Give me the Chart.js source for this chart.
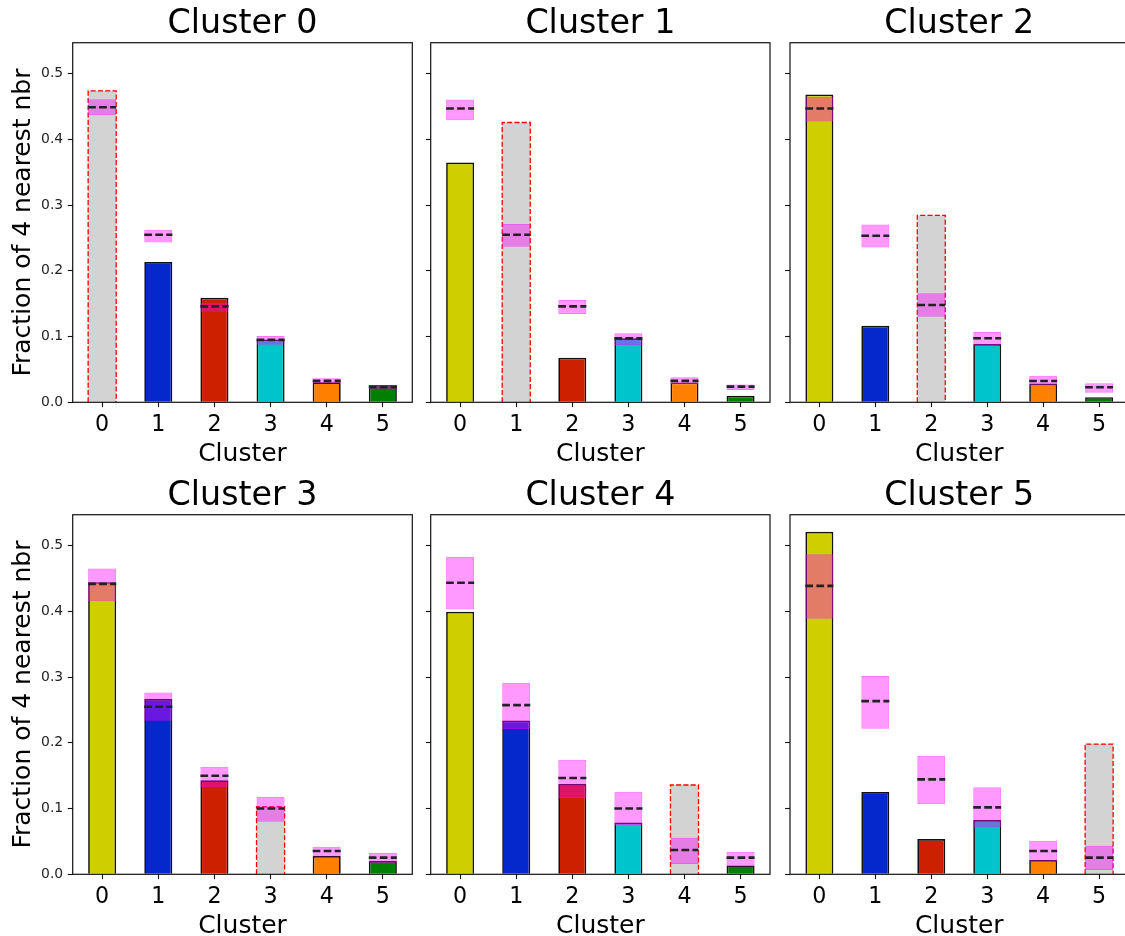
<!DOCTYPE html>
<html>
<head>
<meta charset="utf-8">
<script src="https://cdn.jsdelivr.net/npm/chart.js@4.4.1/dist/chart.umd.min.js"></script>
<style>
  html, body { margin: 0; padding: 0; background: #fff; }
  #fig { position: relative; width: 1125px; height: 936px; overflow: hidden; background: #fff; }
  #fig canvas { position: absolute; }
</style>
</head>
<body>
<div id="fig"></div>
<script>
// ---- data -------------------------------------------------------------
const clusterIds = [0, 1, 2, 3, 4, 5];
const panelTitles = ['Cluster 0', 'Cluster 1', 'Cluster 2', 'Cluster 3', 'Cluster 4', 'Cluster 5'];
const yTickValues = [0.0, 0.1, 0.2, 0.3, 0.4, 0.5];
const xAxisTitle = 'Cluster';
const yAxisTitle = 'Fraction of 4 nearest nbr';

// observed fraction of neighbours in each cluster (one row per panel)
const observed = [
  [0.4737, 0.2133, 0.1591, 0.0955, 0.0304, 0.0263],
  [0.3647, 0.4255, 0.0679, 0.0975, 0.0300, 0.0098],
  [0.4681, 0.1165, 0.2842, 0.0885, 0.0287, 0.0078],
  [0.4443, 0.2665, 0.1429, 0.1027, 0.0278, 0.0202],
  [0.3992, 0.2340, 0.1373, 0.0788, 0.1358, 0.0135],
  [0.5208, 0.1251, 0.0537, 0.0826, 0.0218, 0.1981]
];
// expected range under shuffling: low edge, mean, high edge
const nullLow = [
  [0.4367, 0.2432, 0.1378, 0.0875, 0.0289, 0.0193],
  [0.4291, 0.2366, 0.1342, 0.0871, 0.0278, 0.0187],
  [0.4271, 0.2356, 0.1302, 0.0868, 0.0250, 0.0147],
  [0.4154, 0.2335, 0.1322, 0.0800, 0.0270, 0.0177],
  [0.4027, 0.2209, 0.1160, 0.0750, 0.0155, 0.0118],
  [0.3886, 0.2214, 0.1064, 0.0714, 0.0192, 0.0066]
];
const nullMean = [
  [0.4488, 0.2548, 0.1459, 0.0950, 0.0326, 0.0228],
  [0.4468, 0.2548, 0.1459, 0.0972, 0.0326, 0.0238],
  [0.4468, 0.2533, 0.1479, 0.0973, 0.0324, 0.0228],
  [0.4417, 0.2548, 0.1499, 0.1000, 0.0355, 0.0253],
  [0.4433, 0.2573, 0.1464, 0.1000, 0.0370, 0.0253],
  [0.4387, 0.2634, 0.1444, 0.1018, 0.0355, 0.0253]
];
const nullHigh = [
  [0.4610, 0.2624, 0.1515, 0.1010, 0.0365, 0.0262],
  [0.4605, 0.2710, 0.1555, 0.1049, 0.0380, 0.0271],
  [0.4645, 0.2705, 0.1657, 0.1071, 0.0402, 0.0289],
  [0.4650, 0.2766, 0.1636, 0.1180, 0.0420, 0.0329],
  [0.4828, 0.2913, 0.1743, 0.1256, 0.0557, 0.0344],
  [0.4868, 0.3014, 0.1803, 0.1322, 0.0511, 0.0433]
];

// ---- styles -----------------------------------------------------------
const clusterColors = ['#cfcf00', '#0428cc', '#cc2000', '#00c4cc', '#ff8000', '#008000'];
const selfColor = '#d3d3d3';
const bandColor = 'rgba(255, 0, 255, 0.4)';
const bandEdge = 'rgba(255, 0, 255, 0.55)';
const FONT = "'DejaVu Sans', 'Liberation Sans', sans-serif";
const HALF = 0.25;                       // half bar width in axis units

// x limits: bar extents plus a 5% margin, y limits: 0 to max + 5%
const xSpan = (clusterIds[clusterIds.length - 1] + HALF) - (clusterIds[0] - HALF);
const xMin = clusterIds[0] - HALF - 0.05 * xSpan;
const xMax = clusterIds[clusterIds.length - 1] + HALF + 0.05 * xSpan;
const yMax = Math.max(...observed.flat(), ...nullHigh.flat()) * 1.05;

// ---- layout of the 2x3 grid ------------------------------------------
const colLeft = [0, 420, 780];
const colWidth = [420, 360, 355];
const axisWidth = [72.7, 10.7, 10];
const padRight = [7.7, 10, 6.5];
const rowTop = [0, 472];
const canvasH = 470;
const xAxisH = 67.7;

const framePlugin = {
  id: 'frame',
  afterDatasetsDraw(chart) {
    const { ctx, chartArea: a } = chart;
    ctx.save();
    ctx.strokeStyle = '#111';
    ctx.lineWidth = 1.2;
    ctx.strokeRect(a.left, a.top, a.right - a.left, a.bottom - a.top);
    ctx.restore();
  }
};

const fig = document.getElementById('fig');

panelTitles.forEach((title, p) => {
  const col = p % 3, row = Math.floor(p / 3);
  const self = p;

  const canvas = document.createElement('canvas');
  canvas.width = colWidth[col];
  canvas.height = canvasH;
  canvas.style.left = colLeft[col] + 'px';
  canvas.style.top = rowTop[row] + 'px';
  fig.appendChild(canvas);

  const others = clusterIds.filter(c => c !== self);
  const barPts = others.map(c => ({ x: c, y: observed[p][c] }));
  const barCols = others.map(c => clusterColors[c]);
  const selfPts = [{ x: self, y: observed[p][self] }];
  const bandPts = clusterIds.map(c => ({ x: c, y: [nullLow[p][c], nullHigh[p][c]] }));
  const meanPts = [];
  clusterIds.forEach(c => {
    meanPts.push({ x: c - HALF, y: nullMean[p][c] }, { x: c + HALF, y: nullMean[p][c] }, { x: c + 0.5, y: null });
  });
  const sv = observed[p][self];
  const outlinePts = [
    { x: self - HALF, y: 0 }, { x: self - HALF, y: sv },
    { x: self + HALF, y: sv }, { x: self + HALF, y: 0 }
  ];

  const tickGrid = {
    display: true, drawOnChartArea: false, drawTicks: true, offset: false,
    tickLength: 4.9, tickColor: '#111', tickWidth: 1.1
  };

  new Chart(canvas, {
    type: 'bar',
    data: {
      datasets: [
        {
          type: 'line', data: meanPts, order: 1,
          borderColor: '#222', borderWidth: 2.6, borderDash: [7.7, 3.3],
          pointRadius: 0, tension: 0, spanGaps: false, fill: false
        },
        {
          type: 'bar', data: bandPts, order: 2, grouped: false,
          backgroundColor: bandColor, borderColor: bandEdge, borderWidth: 1, borderSkipped: false,
          barPercentage: 1, categoryPercentage: 0.5
        },
        {
          type: 'line', data: outlinePts, order: 3,
          borderColor: '#ff0000', borderWidth: 1.3, borderDash: [5.1, 2.2],
          pointRadius: 0, tension: 0, fill: false
        },
        {
          type: 'bar', data: selfPts, order: 4, grouped: false,
          backgroundColor: selfColor, borderWidth: 0,
          barPercentage: 1, categoryPercentage: 0.5
        },
        {
          type: 'bar', data: barPts, order: 5, grouped: false,
          backgroundColor: barCols, borderColor: '#111', borderWidth: 1.7, borderSkipped: 'start',
          barPercentage: 1, categoryPercentage: 0.5
        }
      ]
    },
    options: {
      responsive: false,
      devicePixelRatio: 1,
      animation: false,
      layout: { padding: { left: 0, right: padRight[col], top: 0, bottom: 0 } },
      plugins: {
        legend: { display: false },
        tooltip: { enabled: false },
        title: {
          display: true, text: title, color: '#000', fullSize: false,
          font: { family: FONT, size: 33.3, weight: 'normal', lineHeight: 1.1 },
          padding: { top: 6.1, bottom: 0 }
        }
      },
      scales: {
        x: {
          type: 'linear', min: xMin, max: xMax, offset: false,
          afterBuildTicks: ax => { ax.ticks = clusterIds.map(v => ({ value: v })); },
          afterFit: ax => { ax.height = xAxisH; },
          grid: tickGrid,
          border: { display: false },
          ticks: {
            padding: 4.6, color: '#000', autoSkip: false, maxRotation: 0,
            font: { family: FONT, size: 22.2 },
            callback: v => String(v)
          },
          title: {
            display: true, text: xAxisTitle, color: '#000',
            font: { family: FONT, size: 25, lineHeight: 1.2 },
            padding: { top: 0, bottom: 0.7 }
          }
        },
        y: {
          type: 'linear', min: 0, max: yMax,
          afterBuildTicks: ax => { ax.ticks = yTickValues.map(v => ({ value: v })); },
          afterFit: ax => { ax.width = axisWidth[col]; },
          grid: tickGrid,
          border: { display: false },
          ticks: {
            display: col === 0, padding: 4.6, color: '#222',
            font: { family: FONT, size: 13.9 },
            callback: v => Number(v).toFixed(1)
          },
          title: {
            display: col === 0, text: yAxisTitle, color: '#000',
            font: { family: FONT, size: 25, lineHeight: 1.2 },
            padding: { top: 8.3, bottom: 0 }
          }
        }
      }
    },
    plugins: [framePlugin]
  });
});
</script>
</body>
</html>
